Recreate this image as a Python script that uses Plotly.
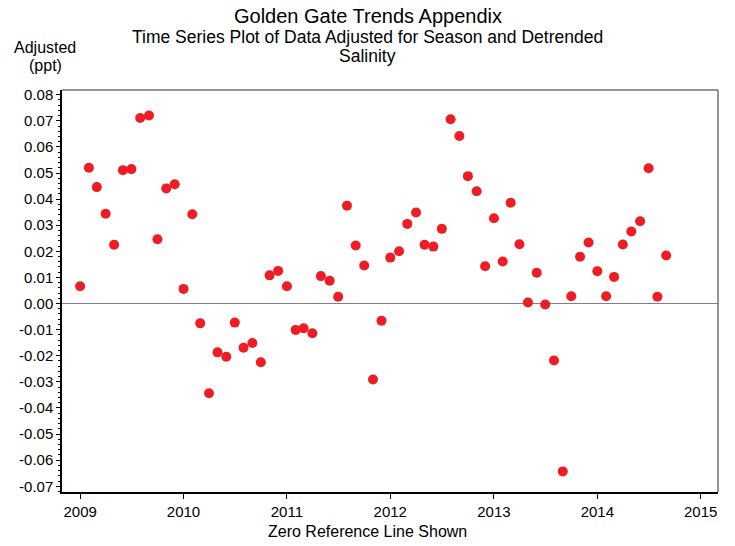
import plotly.graph_objects as go

# Monthly sample dates (Jan 2009 - Sep 2014)
dates = [
    "2009-01-01", "2009-02-01", "2009-03-01", "2009-04-01", "2009-05-01", "2009-06-01",
    "2009-07-01", "2009-08-01", "2009-09-01", "2009-10-01", "2009-11-01", "2009-12-01",
    "2010-01-01", "2010-02-01", "2010-03-01", "2010-04-01", "2010-05-01", "2010-06-01",
    "2010-07-01", "2010-08-01", "2010-09-01", "2010-10-01", "2010-11-01", "2010-12-01",
    "2011-01-01", "2011-02-01", "2011-03-01", "2011-04-01", "2011-05-01", "2011-06-01",
    "2011-07-01", "2011-08-01", "2011-09-01", "2011-10-01", "2011-11-01", "2011-12-01",
    "2012-01-01", "2012-02-01", "2012-03-01", "2012-04-01", "2012-05-01", "2012-06-01",
    "2012-07-01", "2012-08-01", "2012-09-01", "2012-10-01", "2012-11-01", "2012-12-01",
    "2013-01-01", "2013-02-01", "2013-03-01", "2013-04-01", "2013-05-01", "2013-06-01",
    "2013-07-01", "2013-08-01", "2013-09-01", "2013-10-01", "2013-11-01", "2013-12-01",
    "2014-01-01", "2014-02-01", "2014-03-01", "2014-04-01", "2014-05-01", "2014-06-01",
    "2014-07-01", "2014-08-01", "2014-09-01",
]

# Adjusted salinity (ppt)
adjusted = [
    0.0066, 0.0520, 0.0446, 0.0344, 0.0225, 0.0511, 0.0515, 0.0711, 0.0720, 0.0246, 0.0441, 0.0457,
    0.0056, 0.0342, -0.0076, -0.0344, -0.0187, -0.0204, -0.0073, -0.0169, -0.0151, -0.0225, 0.0108, 0.0125,
    0.0066, -0.0101, -0.0095, -0.0114, 0.0105, 0.0087, 0.0026, 0.0375, 0.0222, 0.0146, -0.0291, -0.0066,
    0.0176, 0.0200, 0.0305, 0.0349, 0.0225, 0.0218, 0.0286, 0.0706, 0.0642, 0.0488, 0.0430, 0.0143,
    0.0327, 0.0161, 0.0386, 0.0227, 0.0004, 0.0118, -0.0004, -0.0218, -0.0643, 0.0028, 0.0179, 0.0234,
    0.0124, 0.0028, 0.0102, 0.0226, 0.0276, 0.0315, 0.0518, 0.0026, 0.0184,
]

year_ticks = ["2009-01-01", "2010-01-01", "2011-01-01", "2012-01-01", "2013-01-01", "2014-01-01", "2015-01-01"]
year_labels = ["2009", "2010", "2011", "2012", "2013", "2014", "2015"]
y_ticks = [0.08, 0.07, 0.06, 0.05, 0.04, 0.03, 0.02, 0.01, 0.0,
           -0.01, -0.02, -0.03, -0.04, -0.05, -0.06, -0.07]
y_labels = ["%.2f" % v for v in y_ticks]

FONT = "Liberation Sans, Arial, sans-serif"

fig = go.Figure()
fig.add_trace(go.Scatter(
    x=dates, y=adjusted, mode="markers",
    marker=dict(color="#EE1C25", size=10, line=dict(width=0)),
    showlegend=False, hoverinfo="x+y",
))

fig.update_layout(
    width=735, height=546,
    margin=dict(l=62, r=17, t=90, b=54),
    paper_bgcolor="white", plot_bgcolor="white",
    font=dict(family=FONT, size=15, color="black"),
    xaxis=dict(
        type="date",
        range=["2008-10-29", "2015-03-03"],
        tickvals=year_ticks, ticktext=year_labels,
        showgrid=False, zeroline=False,
        showline=True, linecolor="black", linewidth=1.5,
        ticks="outside", ticklen=5, tickwidth=1, tickcolor="black",
        tickfont=dict(size=15),
    ),
    yaxis=dict(
        range=[-0.0722, 0.0818],
        tickvals=y_ticks, ticktext=y_labels,
        showgrid=False,
        zeroline=True, zerolinecolor="#808080", zerolinewidth=1,
        showline=True, linecolor="black", linewidth=1.5,
        ticks="outside", ticklen=4, tickwidth=1, tickcolor="black",
        minor=dict(dtick=0.002, tick0=0, ticks="outside", ticklen=2, tickwidth=1, tickcolor="black"),
        tickfont=dict(size=15),
    ),
    shapes=[
        dict(type="line", xref="paper", yref="paper", x0=0, x1=1, y0=1, y1=1,
             line=dict(color="#707070", width=1.5)),
        dict(type="line", xref="paper", yref="paper", x0=1, x1=1, y0=0, y1=1,
             line=dict(color="#707070", width=1.5)),
    ],
)

def px_y(y):
    return (492 - y) / 402.0

def px_x(x):
    return (x - 62) / 656.0

annotations = [
    dict(text="Golden Gate Trends Appendix", x=px_x(367.5), y=px_y(16), font=dict(size=20)),
    dict(text="Time Series Plot of Data Adjusted for Season and Detrended", x=px_x(367.5), y=px_y(37), font=dict(size=17.5)),
    dict(text="Salinity", x=px_x(367.5), y=px_y(56), font=dict(size=17.5)),
    dict(text="Adjusted", x=px_x(45), y=px_y(48), font=dict(size=16)),
    dict(text="(ppt)", x=px_x(45), y=px_y(65), font=dict(size=16)),
    dict(text="Zero Reference Line Shown", x=px_x(367.5), y=px_y(531), font=dict(size=16)),
]
for a in annotations:
    a.update(xref="paper", yref="paper", showarrow=False, xanchor="center", yanchor="middle")
    fig.add_annotation(**a)

fig.write_html("out.html", config={"displayModeBar": False},
               post_script="document.body.style.margin='0';document.body.style.padding='0';")
